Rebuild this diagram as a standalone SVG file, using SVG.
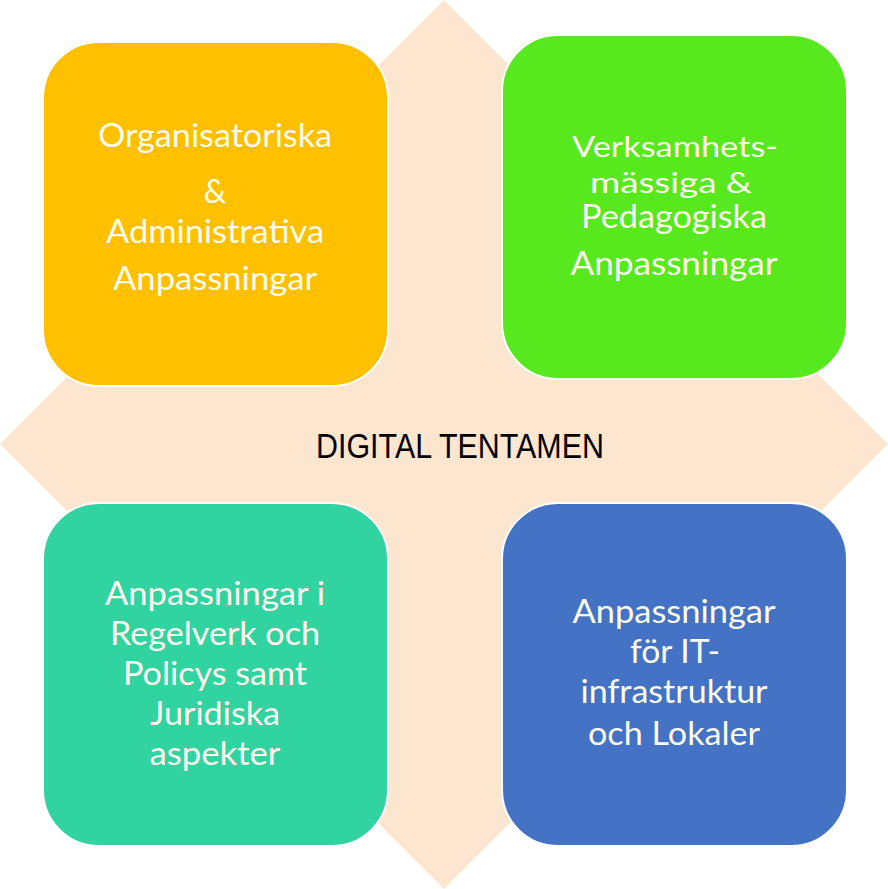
<svg xmlns="http://www.w3.org/2000/svg" width="888" height="889" viewBox="0 0 888 889">
<style>
.box{stroke:#ffffff;stroke-width:2}
.lbl{font-family:Lato,"Open Sans","Liberation Sans",sans-serif;font-size:32px;fill:#fffdf0;text-anchor:middle}
.tight{font-size:29px}
.center{font-family:"Liberation Sans",Arial,sans-serif;font-size:35px;fill:#000000;text-anchor:middle}
</style>
<rect width="888" height="889" fill="#ffffff"/>
<g id="background">
<polygon points="444,0 888,444 444,889 0,444" fill="#fde6cf"/>
</g>
<g id="connectors"></g>
<g id="node-center">
<text class="center" x="460" y="458" textLength="288" lengthAdjust="spacingAndGlyphs">DIGITAL TENTAMEN</text>
</g>
<g id="node-org">
<rect class="box" x="43" y="42" width="345" height="344" rx="56" fill="#ffc000"/>
<text class="lbl" x="215" y="147" textLength="234" lengthAdjust="spacingAndGlyphs">Organisatoriska</text>
<text class="lbl" x="215" y="203">&amp;</text>
<text class="lbl" x="215" y="243" textLength="218" lengthAdjust="spacingAndGlyphs">Administrativa</text>
<text class="lbl" x="215" y="290" textLength="204" lengthAdjust="spacingAndGlyphs">Anpassningar</text>
</g>
<g id="node-ped">
<rect class="box" x="502" y="35" width="345" height="344" rx="56" fill="#58e81e"/>
<text class="lbl tight" x="675" y="157" textLength="206" lengthAdjust="spacingAndGlyphs">Verksamhets-</text>
<text class="lbl tight" x="671" y="193" textLength="162" lengthAdjust="spacingAndGlyphs">mässiga &amp;</text>
<text class="lbl" x="674" y="228" textLength="186" lengthAdjust="spacingAndGlyphs">Pedagogiska</text>
<text class="lbl" x="674" y="275" textLength="207" lengthAdjust="spacingAndGlyphs">Anpassningar</text>
</g>
<g id="node-jur">
<rect class="box" x="43" y="503" width="345" height="343" rx="56" fill="#31d4a0"/>
<text class="lbl" x="215" y="605" textLength="220" lengthAdjust="spacingAndGlyphs">Anpassningar i</text>
<text class="lbl" x="215" y="645" textLength="210" lengthAdjust="spacingAndGlyphs">Regelverk och</text>
<text class="lbl" x="215" y="685" textLength="184" lengthAdjust="spacingAndGlyphs">Policys samt</text>
<text class="lbl" x="215" y="725" textLength="130" lengthAdjust="spacingAndGlyphs">Juridiska</text>
<text class="lbl" x="215" y="765" textLength="131" lengthAdjust="spacingAndGlyphs">aspekter</text>
</g>
<g id="node-it">
<rect class="box" x="502" y="503" width="345" height="343" rx="56" fill="#4472c4"/>
<text class="lbl" x="674" y="623" textLength="203" lengthAdjust="spacingAndGlyphs">Anpassningar</text>
<text class="lbl" x="675" y="663" textLength="90" lengthAdjust="spacingAndGlyphs">för IT-</text>
<text class="lbl" x="674" y="703" textLength="187" lengthAdjust="spacingAndGlyphs">infrastruktur</text>
<text class="lbl" x="674" y="745" textLength="172" lengthAdjust="spacingAndGlyphs">och Lokaler</text>
</g>
</svg>
